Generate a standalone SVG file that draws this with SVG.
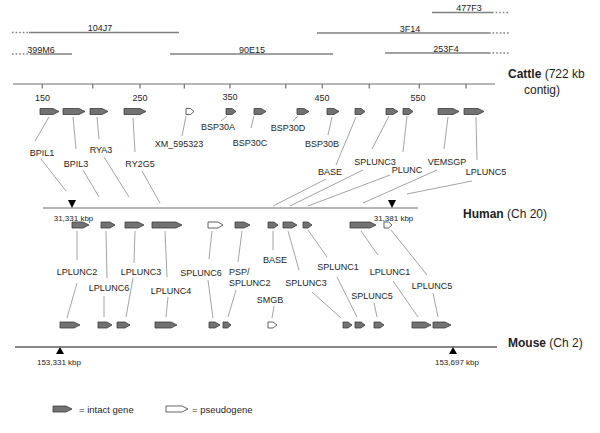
<svg xmlns="http://www.w3.org/2000/svg" width="600" height="433" viewBox="0 0 600 433">
<style>
.g{fill:#727272;stroke:#3c3c3c;stroke-width:0.8}
.p{fill:#fff;stroke:#3c3c3c;stroke-width:0.8}
text{font-family:"Liberation Sans",Arial,sans-serif;fill:#1e1e1e}
.l{font-size:9px;text-anchor:middle}
.ls{font-size:9px}
.k{font-size:8px;text-anchor:middle}
.sp{font-size:12px}
.b{font-weight:bold}
.c{stroke:#8c8c8c;stroke-width:0.8;fill:none}
.bac{stroke:#808080;stroke-width:1.6}
.dot{stroke:#808080;stroke-width:1.6;stroke-dasharray:1.6 2}
.ax{stroke:#6e6e6e;stroke-width:1.2}
</style>
<rect width="600" height="433" fill="#fff"/>

<g id="bacs">
<line class="dot" x1="12" y1="32.5" x2="29" y2="32.5"/><line class="bac" x1="29" y1="32.5" x2="179" y2="32.5"/>
<text class="l" x="100" y="31">104J7</text>
<line class="dot" x1="12" y1="54" x2="30" y2="54"/><line class="bac" x1="30" y1="54" x2="72" y2="54"/>
<text class="l" x="41" y="52.5">399M6</text>
<line class="bac" x1="170" y1="54" x2="333" y2="54"/>
<text class="l" x="252" y="52.5">90E15</text>
<line class="bac" x1="432" y1="12.5" x2="492" y2="12.5"/><line class="dot" x1="492" y1="12.5" x2="510" y2="12.5"/>
<text class="l" x="469" y="11">477F3</text>
<line class="bac" x1="317" y1="33" x2="489" y2="33"/><line class="dot" x1="489" y1="33" x2="510" y2="33"/>
<text class="l" x="410" y="31.5">3F14</text>
<line class="bac" x1="385" y1="53" x2="489" y2="53"/><line class="dot" x1="489" y1="53" x2="510" y2="53"/>
<text class="l" x="446" y="51.5">253F4</text>
</g>

<g id="cattle-axis">
<line class="ax" x1="13" y1="84" x2="495" y2="84"/>
<g class="ax">
<line x1="42.3" y1="84" x2="42.3" y2="88.5"/><line x1="92.7" y1="84" x2="92.7" y2="88.5"/><line x1="140" y1="84" x2="140" y2="88.5"/><line x1="184.3" y1="84" x2="184.3" y2="88.5"/><line x1="230" y1="84" x2="230" y2="88.5"/><line x1="285.7" y1="84" x2="285.7" y2="88.5"/><line x1="322.3" y1="84" x2="322.3" y2="88.5"/><line x1="369.3" y1="84" x2="369.3" y2="88.5"/><line x1="419.3" y1="84" x2="419.3" y2="88.5"/><line x1="466" y1="84" x2="466" y2="88.5"/>
</g>
<text class="l" x="42.5" y="101">150</text>
<text class="l" x="140" y="100.5">250</text>
<text class="l" x="230" y="100">350</text>
<text class="l" x="322" y="100.5">450</text>
<text class="l" x="418" y="100.5">550</text>
<text class="sp" x="508" y="77.5"><tspan class="b">Cattle</tspan> (722 kb</text>
<text class="sp" x="542" y="93.5" text-anchor="middle">contig)</text>
</g>

<g id="human-axis">
<line class="ax" x1="43" y1="208" x2="418" y2="208"/>
<polygon points="68,200 76,200 72,208" fill="#000"/>
<polygon points="388,200 396,200 392,208" fill="#000"/>
<text class="k" x="73.5" y="220.5">31,331 kbp</text>
<text class="k" x="393.5" y="220.5">31,381 kbp</text>
<text class="sp" x="463" y="218"><tspan class="b">Human</tspan> (Ch 20)</text>
</g>

<g id="mouse-axis">
<line x1="15" y1="347" x2="497" y2="347" stroke="#111" stroke-width="1.2"/>
<polygon points="60,347 56,354 64,354" fill="#000"/>
<polygon points="453,347 449,354 457,354" fill="#000"/>
<text class="k" x="59" y="365">153,331 kbp</text>
<text class="k" x="457" y="365">153,697 kbp</text>
<text class="sp" x="508" y="346.5"><tspan class="b">Mouse</tspan> (Ch 2)</text>
</g>

<g id="connectors">
<line class="c" x1="49" y1="117" x2="35" y2="141"/><line class="c" x1="41" y1="159" x2="66" y2="191"/>
<line class="c" x1="73" y1="117" x2="76" y2="149"/><line class="c" x1="83" y1="170" x2="99" y2="197"/>
<line class="c" x1="97" y1="117" x2="99" y2="139"/><line class="c" x1="104" y1="157" x2="129" y2="197"/>
<line class="c" x1="133" y1="118" x2="135" y2="152"/><line class="c" x1="142" y1="171" x2="160" y2="203"/>
<line class="c" x1="186" y1="116" x2="182" y2="136"/>
<line class="c" x1="227" y1="116" x2="221" y2="121"/>
<line class="c" x1="254" y1="116" x2="251" y2="128"/>
<line class="c" x1="298" y1="116" x2="293" y2="121"/>
<line class="c" x1="332" y1="117" x2="328" y2="135"/>
<line class="c" x1="356" y1="117" x2="336" y2="165"/><line class="c" x1="326" y1="179" x2="273" y2="206"/>
<line class="c" x1="389" y1="116" x2="372" y2="149"/><line class="c" x1="363" y1="170" x2="290" y2="206"/>
<line class="c" x1="407" y1="116" x2="403" y2="152"/><line class="c" x1="390" y1="175" x2="308" y2="206"/>
<line class="c" x1="448" y1="117" x2="444" y2="149"/><line class="c" x1="437" y1="170" x2="363" y2="203"/>
<line class="c" x1="476" y1="117" x2="477" y2="160"/><line class="c" x1="472" y1="181" x2="407" y2="194"/>

<line class="c" x1="77" y1="231" x2="77" y2="260"/><line class="c" x1="77" y1="283" x2="67" y2="318"/>
<line class="c" x1="106" y1="231" x2="107" y2="278"/><line class="c" x1="104" y1="296" x2="104" y2="317"/>
<line class="c" x1="135" y1="231" x2="134" y2="263"/><line class="c" x1="133" y1="278" x2="126" y2="317"/>
<line class="c" x1="165" y1="231" x2="167" y2="277"/><line class="c" x1="168" y1="297" x2="166" y2="317"/>
<line class="c" x1="212" y1="231" x2="209" y2="259"/><line class="c" x1="208" y1="280" x2="213" y2="318"/>
<line class="c" x1="242" y1="231" x2="238" y2="262"/><line class="c" x1="236" y1="290" x2="228" y2="317"/>
<line class="c" x1="273" y1="231" x2="273" y2="250"/>
<line class="c" x1="274" y1="306" x2="272" y2="318"/>
<line class="c" x1="288" y1="231" x2="299" y2="270"/><line class="c" x1="312" y1="292" x2="341" y2="318"/>
<line class="c" x1="308" y1="230" x2="327" y2="257"/><line class="c" x1="337" y1="277" x2="357" y2="317"/>
<line class="c" x1="374" y1="303" x2="377" y2="317"/>
<line class="c" x1="361" y1="231" x2="378" y2="255"/><line class="c" x1="393" y1="281" x2="418" y2="317"/>
<line class="c" x1="391" y1="230" x2="427" y2="275"/><line class="c" x1="433" y1="293" x2="438" y2="317"/>
</g>

<g id="cattle-genes">
<g id="c-BPIL1"><polygon class="g" points="40,108.5 53,108.5 59,111.5 53,114.5 40,114.5"/><text class="l" x="42" y="155.5">BPIL1</text></g>
<g id="c-BPIL3"><polygon class="g" points="63,108.5 79,108.5 85,111.5 79,114.5 63,114.5"/><text class="l" x="76" y="167">BPIL3</text></g>
<g id="c-RYA3"><polygon class="g" points="90,108.5 102,108.5 108,111.5 102,114.5 90,114.5"/><text class="l" x="101" y="153">RYA3</text></g>
<g id="c-RY2G5"><polygon class="g" points="124,108.5 140,108.5 146,111.5 140,114.5 124,114.5"/><text class="l" x="140" y="167">RY2G5</text></g>
<g id="c-XM_595323"><polygon class="p" points="186,108.5 190.5,108.5 194,111.5 190.5,114.5 186,114.5"/><text class="l" x="179" y="147">XM_595323</text></g>
<g id="c-BSP30A"><polygon class="g" points="226,108.5 232,108.5 236,111.5 232,114.5 226,114.5"/><text class="l" x="218" y="130">BSP30A</text></g>
<g id="c-BSP30C"><polygon class="g" points="254,108.5 261,108.5 266,111.5 261,114.5 254,114.5"/><text class="l" x="250" y="146">BSP30C</text></g>
<g id="c-BSP30D"><polygon class="g" points="297,108.5 304,108.5 309,111.5 304,114.5 297,114.5"/><text class="l" x="288" y="131">BSP30D</text></g>
<g id="c-BSP30B"><polygon class="g" points="327,108.5 334,108.5 339,111.5 334,114.5 327,114.5"/><text class="l" x="322" y="147">BSP30B</text></g>
<g id="c-BASE"><polygon class="g" points="355,108.5 361,108.5 365,111.5 361,114.5 355,114.5"/><text class="l" x="330" y="175">BASE</text></g>
<g id="c-SPLUNC3"><polygon class="g" points="386,108.5 393,108.5 398,111.5 393,114.5 386,114.5"/><text class="l" x="375" y="165">SPLUNC3</text></g>
<g id="c-PLUNC"><polygon class="g" points="403,108.5 409,108.5 413,111.5 409,114.5 403,114.5"/><text class="l" x="407" y="173">PLUNC</text></g>
<g id="c-VEMSGP"><polygon class="g" points="438,108.5 453,108.5 459,111.5 453,114.5 438,114.5"/><text class="l" x="447" y="165">VEMSGP</text></g>
<g id="c-LPLUNC5"><polygon class="g" points="464,108.5 478,108.5 484,111.5 478,114.5 464,114.5"/><text class="l" x="486" y="175">LPLUNC5</text></g>
</g>

<g id="human-genes">
<g id="h-LPLUNC2"><polygon class="g" points="72,222 83,222 89,225 83,228 72,228"/><text class="l" x="77" y="275">LPLUNC2</text></g>
<g id="h-LPLUNC6"><polygon class="g" points="101,222 110,222 115,225 110,228 101,228"/><text class="l" x="109" y="291">LPLUNC6</text></g>
<g id="h-LPLUNC3"><polygon class="g" points="125,222 138,222 144,225 138,228 125,228"/><text class="l" x="141" y="275">LPLUNC3</text></g>
<g id="h-LPLUNC4"><polygon class="g" points="152,222 176,222 182,225 176,228 152,228"/><text class="l" x="171" y="294">LPLUNC4</text></g>
<g id="h-SPLUNC6"><polygon class="p" points="208,222 218,222 223,225 218,228 208,228"/><text class="l" x="201" y="276">SPLUNC6</text></g>
<g id="h-PSP-SPLUNC2"><polygon class="g" points="235,222 244,222 250,225 244,228 235,228"/><text class="ls" x="229" y="275">PSP/</text><text class="ls" x="229" y="286">SPLUNC2</text></g>
<g id="h-BASE"><polygon class="g" points="268,222 274,222 278,225 274,228 268,228"/><text class="l" x="275" y="263">BASE</text></g>
<g id="h-SPLUNC3"><polygon class="g" points="283,222 292,222 297,225 292,228 283,228"/><text class="l" x="306" y="286">SPLUNC3</text></g>
<g id="h-SPLUNC1"><polygon class="g" points="303,222 308,222 312,225 308,228 303,228"/><text class="l" x="338" y="270">SPLUNC1</text></g>
<g id="h-LPLUNC1"><polygon class="g" points="350,222 370,222 376,225 370,228 350,228"/><text class="l" x="390" y="275">LPLUNC1</text></g>
<g id="h-LPLUNC5"><polygon class="p" points="384,222 388.5,222 392,225 388.5,228 384,228"/><text class="l" x="432" y="289">LPLUNC5</text></g>
</g>

<g id="mouse-genes">
<g id="m-LPLUNC2"><polygon class="g" points="60,322 74,322 80,325 74,328 60,328"/></g>
<g id="m-LPLUNC6"><polygon class="g" points="98,322 107,322 112,325 107,328 98,328"/></g>
<g id="m-LPLUNC3"><polygon class="g" points="117,322 125,322 130,325 125,328 117,328"/></g>
<g id="m-LPLUNC4"><polygon class="g" points="155,322 171,322 177,325 171,328 155,328"/></g>
<g id="m-SPLUNC6"><polygon class="g" points="209,322 215,322 220,325 215,328 209,328"/></g>
<g id="m-PSP-SPLUNC2"><polygon class="g" points="223,322 227.5,322 231,325 227.5,328 223,328"/></g>
<g id="m-SMGB"><polygon class="p" points="268,322 273,322 277,325 273,328 268,328"/><text class="l" x="270" y="302.5">SMGB</text></g>
<g id="m-SPLUNC3"><polygon class="g" points="343,322 348,322 352,325 348,328 343,328"/></g>
<g id="m-SPLUNC1"><polygon class="g" points="355,322 361,322 365,325 361,328 355,328"/></g>
<g id="m-SPLUNC5"><polygon class="g" points="374,322 380,322 384,325 380,328 374,328"/><text class="l" x="372" y="298.5">SPLUNC5</text></g>
<g id="m-LPLUNC1"><polygon class="g" points="412,322 425,322 431,325 425,328 412,328"/></g>
<g id="m-LPLUNC5"><polygon class="g" points="433,322 445,322 451,325 445,328 433,328"/></g>
</g>

<g id="legend">
<polygon class="g" points="53,406 66,406 72,409 66,412 53,412"/>
<text x="79" y="412.5" font-size="9.5">= intact gene</text>
<polygon class="p" points="166,406 182,406 188,409 182,412 166,412"/>
<text x="192" y="412.5" font-size="9.5">= pseudogene</text>
</g>
</svg>
